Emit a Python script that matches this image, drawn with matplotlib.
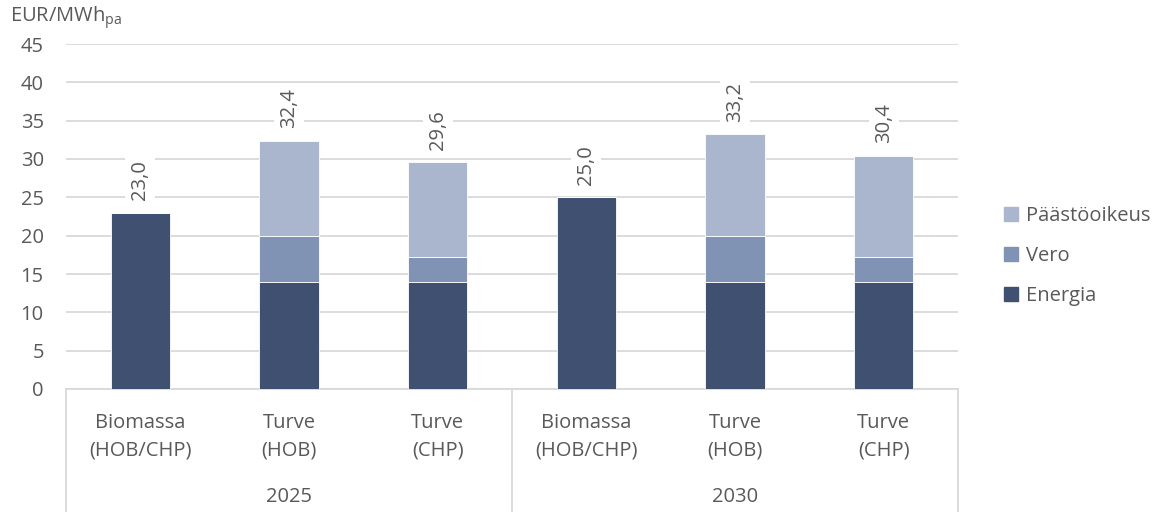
import matplotlib.pyplot as plt
from matplotlib.lines import Line2D
from matplotlib.patches import Patch
import numpy as np

plt.rcParams['font.family'] = ['Open Sans', 'DejaVu Sans']
plt.rcParams['mathtext.fontset'] = 'custom'
plt.rcParams['mathtext.rm'] = 'Open Sans'

# data
categories = ['Biomassa\n(HOB/CHP)', 'Turve\n(HOB)', 'Turve\n(CHP)',
              'Biomassa\n(HOB/CHP)', 'Turve\n(HOB)', 'Turve\n(CHP)']
years = ['2025', '2030']
energia = [23.0, 14.0, 14.0, 25.0, 14.0, 14.0]
vero = [0.0, 6.0, 3.2, 0.0, 6.0, 3.2]
paastooikeus = [0.0, 12.4, 12.4, 0.0, 13.2, 13.2]

c_energia = '#3f5070'
c_vero = '#8093b5'
c_paasto = '#aab6ce'
txt = '#595959'
grid = '#d9d9d9'
fs = 14.5

W, H = 1154, 512
fig = plt.figure(figsize=(W / 100, H / 100), dpi=100)
x0, x1, y0, y1 = 66, 958, 389, 44
ax = fig.add_axes([x0 / W, 1 - y0 / H, (x1 - x0) / W, (y0 - y1) / H])

x = np.arange(len(categories))
bw = 0.40
bottom2 = np.array(energia) + np.array(vero)
ax.bar(x, energia, bw, color=c_energia, edgecolor='white', linewidth=0.6, zorder=3)
ax.bar(x, vero, bw, bottom=energia, color=c_vero, edgecolor='white', linewidth=0.6, zorder=3)
ax.bar(x, paastooikeus, bw, bottom=bottom2, color=c_paasto, edgecolor='white', linewidth=0.6, zorder=3)

totals = bottom2 + np.array(paastooikeus)
for xi, t in zip(x, totals):
    ax.annotate(f'{t:.1f}'.replace('.', ','), (xi, t), xytext=(0, 9),
                textcoords='offset points', rotation=90, ha='center', va='bottom',
                fontsize=fs, color=txt, zorder=4,
                bbox=dict(boxstyle='square,pad=0.25', fc='white', ec='none'))

ax.set_xlim(-0.5, len(categories) - 0.5)
ax.set_ylim(0, 45)
ax.set_yticks(np.arange(0, 46, 5))
ax.yaxis.grid(True, color=grid, linewidth=1.3, zorder=0)
ax.set_axisbelow(True)
for s in ['top', 'right', 'left']:
    ax.spines[s].set_visible(False)
ax.spines['bottom'].set_color(grid)
ax.spines['bottom'].set_linewidth(1.3)
ax.tick_params(axis='y', length=0, pad=16, labelsize=fs, labelcolor=txt)
ax.set_xticks(x)
ax.set_xticklabels(categories, fontsize=fs, color=txt, linespacing=1.55)
ax.tick_params(axis='x', length=0, pad=17)

# year labels and separators
tr = ax.get_xaxis_transform()
for i, yr in enumerate(years):
    ax.text(i * 3 + 1, (389 - 497) / (389 - 44), yr, transform=tr, ha='center',
            va='center', fontsize=fs, color=txt)
for xs in [-0.5, 2.5, 5.5]:
    ax.add_line(Line2D([xs, xs], [0, -123 / 345], transform=tr, color=grid,
                       linewidth=1.3, clip_on=False))

fig.text(10 / W, 1 - 18 / H, r'EUR/MWh$_{\mathrm{pa}}$', fontsize=fs, color=txt,
         ha='left', va='center')

handles = [Patch(color=c_paasto), Patch(color=c_vero), Patch(color=c_energia)]
fig.legend(handles, ['Päästöoikeus', 'Vero', 'Energia'], loc='center left',
           bbox_to_anchor=(986 / W, 1 - 256 / H), frameon=False, fontsize=fs,
           labelcolor=txt, handlelength=0.7, handleheight=0.7, handletextpad=0.4,
           labelspacing=0.98)

fig.savefig('out.png', dpi=100)
